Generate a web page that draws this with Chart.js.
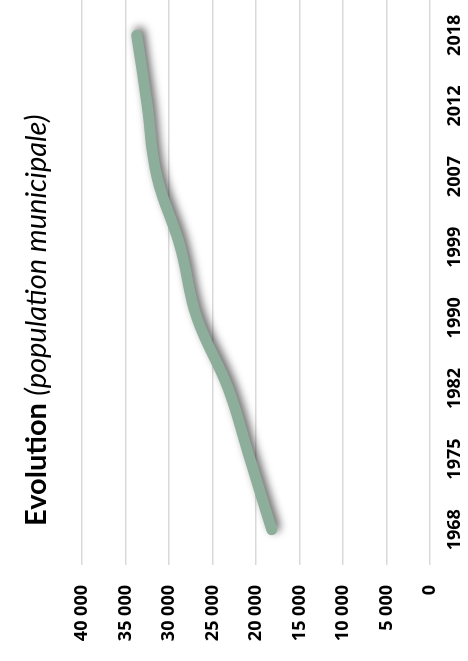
<!DOCTYPE html>
<html>
<head>
<meta charset="utf-8">
<script src="https://cdn.jsdelivr.net/npm/chart.js@4/dist/chart.umd.min.js"></script>
<style>
  html, body { margin: 0; padding: 0; background: #fff; overflow: hidden; }
  body { width: 468px; height: 661px; position: relative; }
  #wrap {
    position: absolute; left: 0; top: 0; width: 661px; height: 468px;
    transform-origin: 0 0; transform: translateY(661px) rotate(-90deg);
  }
  #chart { position: absolute; left: 0; top: 0; width: 661px; height: 468px; }
  #title {
    position: absolute; left: 135px; top: 20px;
    white-space: nowrap; font-family: Lato, "Open Sans", sans-serif; font-size: 25px;
    line-height: 1; color: #000;
  }
  #title b { font-weight: 700; }
  #title i { font-weight: 400; font-style: italic; }
</style>
</head>
<body>
<div id="wrap">
  <canvas id="chart" width="661" height="468"></canvas>
  <div id="title"><b>Evolution</b> <i>(population municipale)</i></div>
</div>
<script>
const years = ["1968", "1975", "1982", "1990", "1999", "2007", "2012", "2018"];
const population = [18200, 20700, 23200, 26800, 28700, 31400, 32500, 33700];
const valueTicks = [0, 5000, 10000, 15000, 20000, 25000, 30000, 35000, 40000];

function fmt(v) {
  return String(v).replace(/\B(?=(\d{3})+(?!\d))/g, ' ');
}

function fitTitle() {
  const t = document.getElementById('title');
  const target = 412;
  const base = 25;
  t.style.fontSize = base + 'px';
  const fs = base * target / t.offsetWidth;
  t.style.fontSize = fs.toFixed(2) + 'px';
  // keep baseline at ~46px from the chart's top edge
  t.style.top = (46 - 0.887 * fs).toFixed(1) + 'px';
}

const shadowPlugin = {
  id: 'lineShadow',
  beforeDatasetDraw(chart) {
    const c = chart.ctx;
    c.save();
    c.shadowColor = 'rgba(0,0,0,0.6)';
    c.shadowBlur = 8;
    c.shadowOffsetX = 3;
    c.shadowOffsetY = 3;
  },
  afterDatasetDraw(chart) {
    chart.ctx.restore();
  }
};

const tickFont = { family: '"Open Sans", "Liberation Sans", sans-serif', size: 18, weight: '700' };

function draw() {
  fitTitle();
  new Chart(document.getElementById('chart'), {
    type: 'line',
    data: {
      labels: years,
      datasets: [{
        data: population,
        borderColor: '#8cae9b',
        borderWidth: 11,
        borderCapStyle: 'round',
        borderJoinStyle: 'round',
        tension: 0.4,
        pointRadius: 0,
        pointHoverRadius: 0,
        fill: false
      }]
    },
    options: {
      responsive: false,
      animation: false,
      events: [],
      layout: { padding: { top: 82, right: 0, bottom: 0, left: 0 } },
      plugins: { legend: { display: false }, tooltip: { enabled: false }, title: { display: false } },
      scales: {
        x: {
          offset: true,
          grid: { display: false, drawTicks: false },
          border: { display: false },
          ticks: { font: tickFont, color: '#000', padding: 14, maxRotation: 0, minRotation: 0, autoSkip: false },
          afterFit(scale) { scale.height = 38; }
        },
        y: {
          min: 0,
          max: 40000,
          afterBuildTicks(scale) { scale.ticks = valueTicks.map(v => ({ value: v })); },
          grid: { color: '#d9d9d9', lineWidth: 1.5, drawTicks: false },
          border: { display: false },
          ticks: { font: tickFont, color: '#000', padding: 20, callback: (v) => fmt(v) },
          afterFit(scale) { scale.width = 96; }
        }
      }
    },
    plugins: [shadowPlugin]
  });
}

Promise.all([
  document.fonts.load('700 18px "Open Sans"'),
  document.fonts.load('bold 25px Lato'),
  document.fonts.load('italic 25px Lato')
]).then(draw, draw);
</script>
</body>
</html>
